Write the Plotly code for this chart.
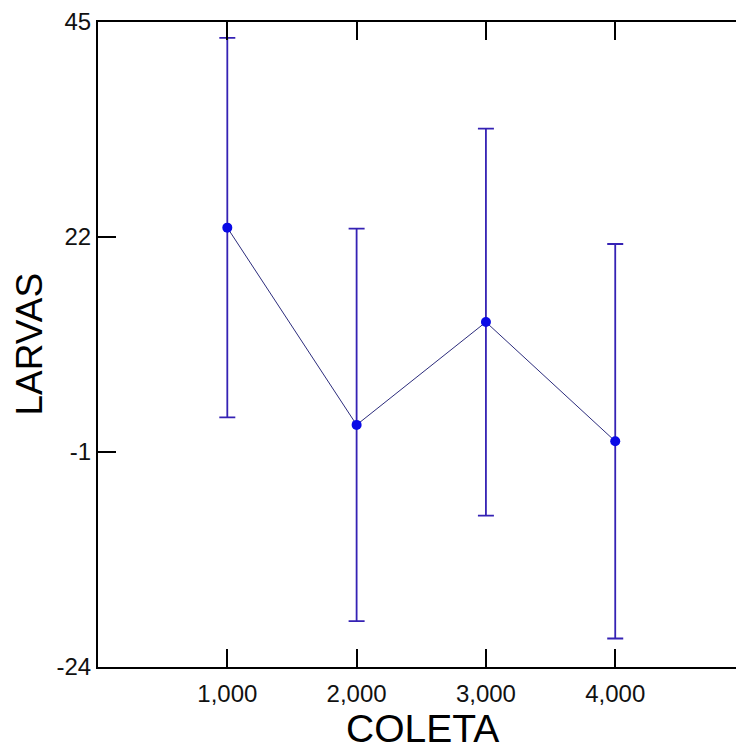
import plotly.graph_objects as go

# Mean larvae count per collection, with symmetric error half-widths
coleta = [1, 2, 3, 4]
larvas_media = [23.0, 1.9, 12.9, 0.15]
larvas_erro = [20.3, 21.0, 20.7, 21.1]

x_ticks = [1, 2, 3, 4]
x_tick_labels = ["1,000", "2,000", "3,000", "4,000"]
y_ticks = [-24, -1, 22, 45]
y_tick_labels = ["-24", "-1", "22", "45"]

FONT = "Liberation Sans, Arial, sans-serif"

fig = go.Figure()
fig.add_trace(go.Scatter(
    x=coleta,
    y=larvas_media,
    mode="lines+markers",
    line=dict(color="#2c2c7c", width=1),
    marker=dict(color="#0a0ae6", size=10, symbol="circle"),
    error_y=dict(type="data", array=larvas_erro, visible=True,
                 color="#3522b4", thickness=1.8, width=8),
    showlegend=False,
    hoverinfo="skip",
))

axis_common = dict(
    showgrid=False, zeroline=False,
    ticks="inside", ticklen=18, tickwidth=2, tickcolor="black",
    linecolor="black", linewidth=2,
    tickfont=dict(family=FONT, size=24, color="#111111"),
)

fig.update_layout(
    width=736, height=751,
    margin=dict(l=98, r=0, t=22, b=84),
    paper_bgcolor="white", plot_bgcolor="white",
    xaxis=dict(range=[0, 4.934], tickvals=x_ticks, ticktext=x_tick_labels,
               showline=True, mirror="ticks", ticklabelstandoff=4,
               **axis_common),
    yaxis=dict(range=[-24, 45], tickvals=y_ticks, ticktext=y_tick_labels,
               showline=True, mirror=False, ticklabelstandoff=0,
               **axis_common),
    yaxis2=dict(range=[-24, 45], tickvals=y_ticks, overlaying="y",
                side="right", anchor="x", showline=False, showgrid=False,
                zeroline=False, showticklabels=False,
                ticks="inside", ticklen=8, tickwidth=2, tickcolor="black"),
    annotations=[
        dict(text="COLETA", xref="paper", yref="paper", x=0.508, y=0,
             yshift=-61, xanchor="center", yanchor="middle", showarrow=False,
             font=dict(family=FONT, size=39, color="black")),
        dict(text="LARVAS", xref="paper", yref="paper", x=0, y=0.5,
             xshift=-69, textangle=-90, xanchor="center", yanchor="middle",
             showarrow=False,
             font=dict(family=FONT, size=37, color="black")),
    ],
)

fig.write_html("out.html", config={"displayModeBar": False})
